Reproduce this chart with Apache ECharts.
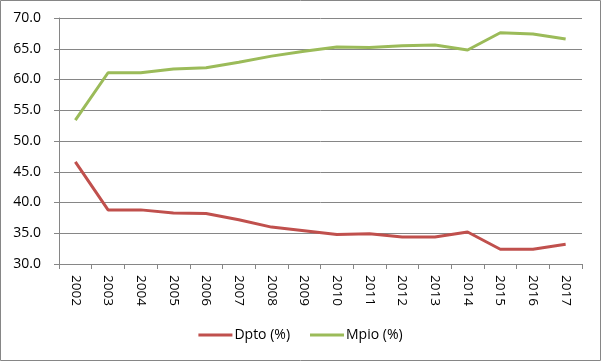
<!DOCTYPE html>
<html><head><meta charset="utf-8">
<script src="https://cdn.jsdelivr.net/npm/echarts@6/dist/echarts.min.js"></script>
<style>html,body{margin:0;padding:0;background:#fff}#c{width:601px;height:361px}</style>
</head><body><div id="c"></div>
<script>
const years = ['2002','2003','2004','2005','2006','2007','2008','2009','2010','2011','2012','2013','2014','2015','2016','2017'];
const dpto = [46.6,38.8,38.8,38.3,38.2,37.2,36.0,35.4,34.8,34.9,34.4,34.4,35.2,32.4,32.4,33.2];
const mpio = [53.4,61.1,61.1,61.7,61.9,62.8,63.8,64.6,65.3,65.2,65.5,65.6,64.8,67.6,67.4,66.6];
const seriesNames = ['Dpto (%)','Mpio (%)'];
const chart = echarts.init(document.getElementById('c'));
const font = 'Open Sans, Liberation Sans, sans-serif';
chart.setOption({
  animation:false,
  graphic:[{type:'rect',shape:{x:0.5,y:0.5,width:600,height:360},style:{fill:'none',stroke:'#868686',lineWidth:1},silent:true}],
  grid:{left:59,right:19,top:18,bottom:97},
  legend:{bottom:14,left:'center',itemWidth:34,itemHeight:3,itemGap:20,icon:'rect',
    textStyle:{fontFamily:font,fontSize:14,color:'#000',padding:[0,0,0,-3]},data:seriesNames},
  xAxis:{type:'category',data:years,boundaryGap:true,
    axisLine:{lineStyle:{color:'#868686'}},
    axisTick:{show:true,length:5,lineStyle:{color:'#868686'}},
    axisLabel:{rotate:-90,fontFamily:font,fontSize:13.5,color:'#000',margin:11}},
  yAxis:{type:'value',min:30,max:70,interval:5,
    axisLine:{show:true,lineStyle:{color:'#868686'}},
    axisTick:{show:true,length:5,lineStyle:{color:'#868686'}},
    splitLine:{lineStyle:{color:'#868686'}},
    axisLabel:{fontFamily:font,fontSize:14,color:'#000',margin:18,formatter:v=>v.toFixed(1)}},
  series:[
    {name:seriesNames[0],type:'line',data:dpto,symbol:'none',lineStyle:{color:'#C0504D',width:3},itemStyle:{color:'#C0504D'}},
    {name:seriesNames[1],type:'line',data:mpio,symbol:'none',lineStyle:{color:'#9BBB59',width:3},itemStyle:{color:'#9BBB59'}}
  ]
});
</script></body></html>
